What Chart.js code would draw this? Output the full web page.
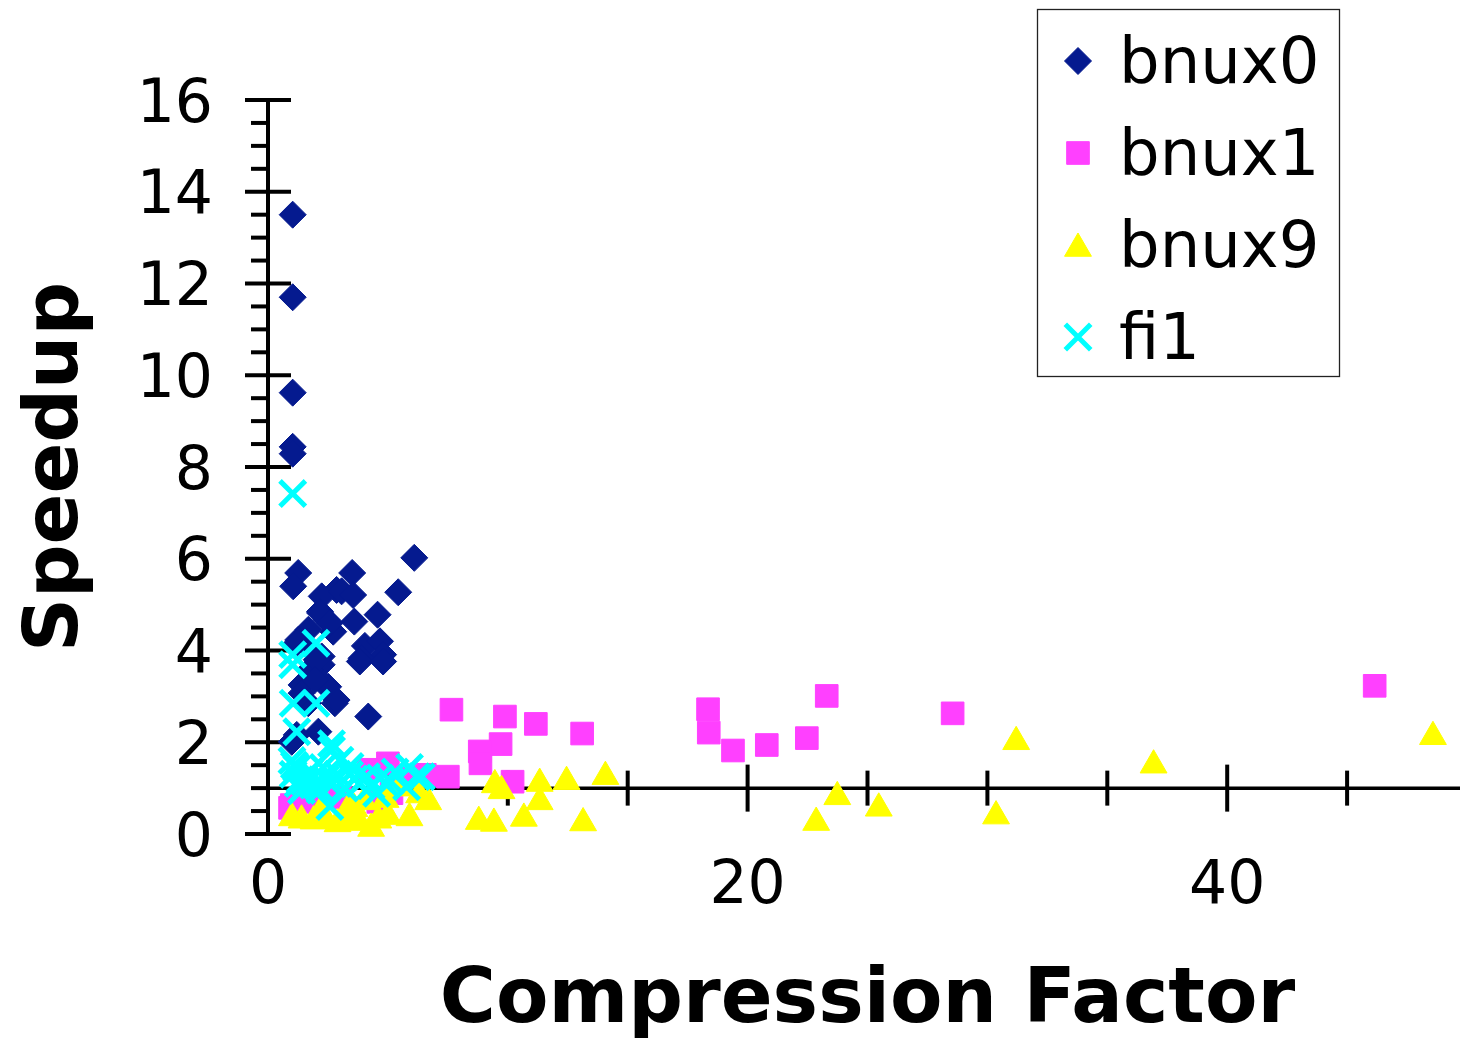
<!DOCTYPE html>
<html>
<head>
<meta charset="utf-8">
<script src="https://cdn.jsdelivr.net/npm/chart.js@4.4.1/dist/chart.umd.min.js"></script>
<style>
  html, body { margin: 0; padding: 0; background: #ffffff; overflow: hidden; }
  #wrap { width: 1490px; height: 1044px; }
</style>
</head>
<body>
<div id="wrap"><canvas id="c" width="1490" height="1044"></canvas></div>
<script>
// ---------------- data ----------------
const seriesNames = ['bnux0', 'bnux1', 'bnux9', 'fi1'];

const bnux0X = [1.03, 1.03, 1.03, 1.03, 1.03, 1.26, 1.05, 3.51, 6.10, 5.43, 2.86, 2.24, 3.07, 3.55,
  4.57, 3.60, 2.17, 2.44, 2.72, 1.68, 1.26, 4.04, 4.67, 4.80, 3.90, 2.24, 1.82,
  2.24, 1.40, 2.51, 2.79, 1.68, 4.18, 2.10, 1.20, 0.99,
  1.20, 2.17, 2.58, 1.75, 2.03, 2.86, 2.45, 1.96, 1.40, 3.83, 4.80];
const bnux0Y = [13.5, 11.7, 9.62, 8.44, 8.29, 5.69, 5.40, 5.69, 6.02, 5.27, 5.32, 5.18, 5.29, 5.21,
  4.78, 4.63, 4.85, 4.67, 4.41, 4.45, 4.23, 4.10, 4.20, 3.91, 3.83, 3.87, 4.01,
  3.69, 3.25, 3.21, 2.85, 2.85, 2.56, 2.23, 2.16, 2.01,
  4.16, 4.82, 4.60, 3.58, 3.80, 2.92, 3.21, 3.36, 3.07, 3.76, 3.76];

const bnux1X = [7.65, 9.88, 11.17, 13.10, 9.70, 8.83, 8.86, 10.20, 7.50,
  18.35, 18.38, 19.39, 20.80, 22.47, 23.30, 28.55, 46.15,
  0.92, 5.00, 6.54, 5.15, 0.99, 4.60, 5.60, 3.00, 2.00, 4.20, 1.50];
const bnux1Y = [2.71, 2.56, 2.40, 2.19, 1.96, 1.80, 1.54, 1.14, 1.25,
  2.72, 2.21, 1.82, 1.94, 2.09, 3.01, 2.63, 3.23,
  0.57, 1.54, 1.29, 0.89, 0.63, 0.70, 1.25, 0.80, 0.90, 1.40, 0.70];

const bnux9X = [31.20, 30.36, 36.93, 48.58, 23.74, 22.86, 25.47, 9.46, 9.74, 11.33, 12.45, 14.07,
  11.33, 8.79, 9.42, 10.67, 13.14, 6.68,
  1.00, 1.40, 1.90, 2.40, 2.90, 3.30, 3.80, 4.30, 4.60, 5.00, 5.90, 2.20, 3.60, 4.00, 6.30, 5.50, 3.40, 4.90];
const bnux9Y = [2.01, 0.39, 1.50, 2.12, 0.81, 0.25, 0.56, 1.07, 0.94, 1.10, 1.14, 1.25,
  0.70, 0.27, 0.23, 0.34, 0.24, 0.70,
  0.35, 0.30, 0.28, 0.30, 0.22, 0.32, 0.25, 0.12, 0.30, 0.38, 0.35, 0.50, 0.55, 0.70, 0.85, 1.00, 0.60, 0.75];

const fi1X = [1.03, 2.00, 1.03, 1.03, 1.05, 2.00, 1.20, 2.65, 2.65,
  1.10, 1.75, 3.00, 3.42, 4.11, 4.67, 6.20, 5.78, 2.58, 1.89, 1.33, 2.17, 4.53, 3.83,
  1.20, 6.40, 2.10, 4.90, 1.26, 1.68, 1.00, 2.40, 3.20, 5.30, 5.90, 2.90,
  1.05, 1.50, 2.30, 3.60, 4.30, 5.10, 1.40, 2.70, 3.40];
const fi1Y = [7.42, 4.16, 3.91, 3.69, 2.85, 2.85, 2.23, 1.97, 1.83,
  1.50, 1.36, 1.61, 1.47, 1.25, 1.22, 1.25, 1.03, 0.60, 1.07, 1.18, 0.96, 0.89, 1.10,
  1.43, 1.25, 1.03, 1.10, 1.10, 1.32, 1.60, 1.20, 1.00, 1.35, 1.45, 1.30,
  1.30, 1.15, 1.45, 1.20, 1.05, 1.15, 0.95, 1.10, 1.30];

const xTickLabels = [0, 20, 40];
const yTickLabels = [0, 2, 4, 6, 8, 10, 12, 14, 16];
const xMin = 0, xMax = 50, xMinorStep = 5, xMajorStep = 20;
const yMin = 0, yMax = 16, yMinorStep = 0.5, yMajorStep = 2;
const xAxisCrossesAt = 1;

// ---------------- build ----------------
function pts(xs, ys) { return xs.map((x, i) => ({ x: x, y: ys[i] })); }

const datasets = [
  { label: seriesNames[0], data: pts(bnux0X, bnux0Y), pointStyle: 'rectRot', pointRadius: 13.5,
    backgroundColor: '#051a8f', borderColor: '#051a8f', borderWidth: 1, order: 3, clip: false },
  { label: seriesNames[1], data: pts(bnux1X, bnux1Y), pointStyle: 'rect', pointRadius: 16,
    backgroundColor: '#ff40ff', borderColor: '#ff40ff', borderWidth: 1, order: 2, clip: false },
  { label: seriesNames[2], data: pts(bnux9X, bnux9Y), pointStyle: 'triangle', pointRadius: 15.5,
    backgroundColor: '#ffff00', borderColor: '#ffff00', borderWidth: 1, order: 1, clip: false },
  { label: seriesNames[3], data: pts(fi1X, fi1Y), pointStyle: 'crossRot', pointRadius: 18,
    backgroundColor: '#00ffff', borderColor: '#00ffff', borderWidth: 5, order: 0, clip: false }
];

const FONT = "'DejaVu Sans', Verdana, sans-serif";

function line(ctx, x1, y1, x2, y2) { ctx.beginPath(); ctx.moveTo(x1, y1); ctx.lineTo(x2, y2); ctx.stroke(); }

const crossAxes = {
  id: 'crossAxes',
  beforeDatasetsDraw(chart) {
    const { ctx } = chart;
    const xs = chart.scales.x, ys = chart.scales.y;
    const x0 = xs.getPixelForValue(0);
    const yc = ys.getPixelForValue(xAxisCrossesAt);
    ctx.save();
    ctx.strokeStyle = '#000';
    ctx.lineCap = 'butt';
    ctx.lineWidth = 4;
    for (let v = yMin; v <= yMax + 1e-9; v += yMinorStep) {
      const p = ys.getPixelForValue(v);
      if (Math.abs(v / yMajorStep - Math.round(v / yMajorStep)) > 1e-6) line(ctx, x0 - 17, p, x0, p);
    }
    for (const v of yTickLabels) {
      const p = ys.getPixelForValue(v);
      line(ctx, x0 - 23, p, x0 + 23, p);
    }
    line(ctx, x0, ys.getPixelForValue(yMax) - 2, x0, ys.getPixelForValue(yMin) + 2);
    ctx.lineWidth = 3.5;
    line(ctx, x0, yc, xs.right, yc);
    ctx.lineWidth = 4;
    for (let v = xMin + xMinorStep; v <= xMax + 1e-9; v += xMinorStep) {
      const p = xs.getPixelForValue(v);
      const len = (Math.abs(v % xMajorStep) < 1e-9) ? 23.5 : 17.5;
      line(ctx, p, yc - len, p, yc + len);
    }
    ctx.restore();
  }
};

function drawMarker(ctx, ds, x, y) {
  const opts = { pointStyle: ds.pointStyle, radius: ds.pointRadius, borderWidth: ds.borderWidth, rotation: 0 };
  ctx.save();
  ctx.fillStyle = ds.backgroundColor;
  ctx.strokeStyle = ds.borderColor;
  ctx.lineWidth = ds.borderWidth;
  if (Chart.helpers && Chart.helpers.drawPoint) {
    Chart.helpers.drawPoint(ctx, opts, x, y);
  }
  ctx.restore();
}

const boxLegend = {
  id: 'boxLegend',
  afterDraw(chart) {
    const { ctx } = chart;
    ctx.save();
    ctx.fillStyle = '#fff';
    ctx.fillRect(1037.5, 9.5, 302, 367);
    ctx.strokeStyle = '#222';
    ctx.lineWidth = 1.3;
    ctx.strokeRect(1037.5, 9.5, 302, 367);
    chart.data.datasets.forEach((ds, i) => {
      const cy = 61 + i * 92;
      const adj = ds.pointStyle === 'triangle' ? 3.5 : 0;
      drawMarker(ctx, ds, 1078, cy + adj);
      ctx.fillStyle = '#000';
      ctx.font = '64px ' + FONT;
      ctx.textAlign = 'left';
      ctx.textBaseline = 'alphabetic';
      ctx.fillText(ds.label, 1119, cy + 22);
    });
    ctx.restore();
  }
};

new Chart(document.getElementById('c'), {
  type: 'scatter',
  data: { datasets: datasets },
  plugins: [crossAxes, boxLegend],
  options: {
    responsive: false,
    animation: false,
    devicePixelRatio: 1,
    events: [],
    layout: { padding: { top: 100, right: 0, bottom: 0, left: 0 } },
    plugins: { legend: { display: false }, tooltip: { enabled: false } },
    scales: {
      x: {
        type: 'linear', min: xMin, max: xMax,
        grid: { display: false, drawTicks: false },
        border: { display: false },
        afterBuildTicks: (s) => { s.ticks = xTickLabels.map(v => ({ value: v })); },
        afterFit: (s) => { s.height = 210; },
        ticks: { color: '#000', font: { family: FONT, size: 60 }, padding: 17, maxRotation: 0, autoSkip: false },
        title: { display: true, text: 'Compression Factor', color: '#000',
                 font: { family: FONT, size: 76.5, weight: 'bold' }, padding: { top: 0, bottom: -4 } }
      },
      y: {
        type: 'linear', min: yMin, max: yMax,
        grid: { display: false, drawTicks: false },
        border: { display: false },
        afterBuildTicks: (s) => { s.ticks = yTickLabels.map(v => ({ value: v })); },
        afterFit: (s) => { s.width = 268; },
        ticks: { color: '#000', font: { family: FONT, size: 60 }, padding: 55, labelOffset: 6, autoSkip: false },
        title: { display: true, text: 'Speedup', color: '#000',
                 font: { family: FONT, size: 75, weight: 'bold' }, padding: { top: 13, bottom: 0 } }
      }
    }
  }
});
</script>
</body>
</html>
